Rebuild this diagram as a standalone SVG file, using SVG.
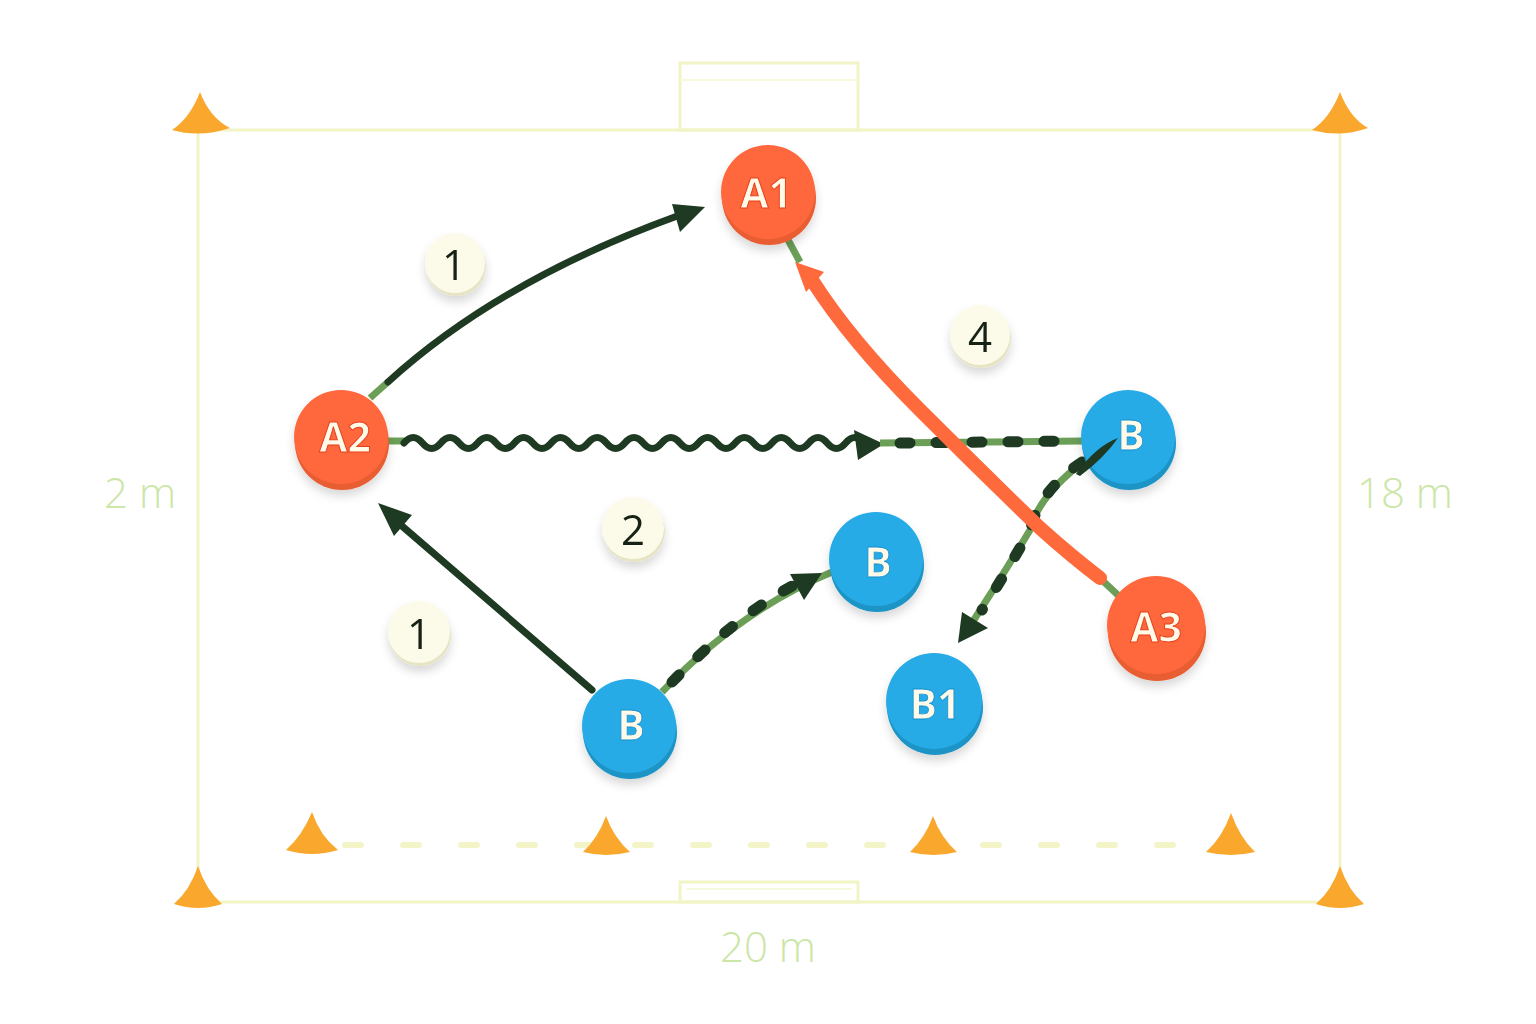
<svg xmlns="http://www.w3.org/2000/svg" width="1536" height="1024" viewBox="0 0 1536 1024">
<style>
.field{fill:none;stroke:#f2f4c6;stroke-width:3}
.fieldi{fill:none;stroke:#f7f9dc;stroke-width:2}
.cone{fill:#f9a82d}
.dim{font-family:"Open Sans","Noto Sans",sans-serif;font-weight:300;font-size:42px;fill:#cbe6a6;text-anchor:middle}
.red .top{fill:#ff683d}
.red .bot{fill:#e85d33}
.blue .top{fill:#27abe6}
.blue .bot{fill:#1e94c6}
.lbl{font-family:"Open Sans","Noto Sans",sans-serif;font-weight:700;font-size:41px;fill:#fffbe8;text-anchor:middle;dominant-baseline:central}
.red .lbl{stroke:#e8401e;stroke-width:1}
.blue .lbl{stroke:#1a8fd0;stroke-width:0.8}
.badge .top{fill:#fcfbea}
.badge .bot{fill:#e6e4c4}
.num{font-family:"Open Sans","Noto Sans",sans-serif;font-size:42px;fill:#142014;text-anchor:middle;dominant-baseline:central}
.dk{fill:none;stroke:#1f3a22;stroke-width:7;stroke-linecap:round}
.gr{fill:none;stroke:#6b9e57;stroke-width:7}
.dash{fill:none;stroke:#1f3a22;stroke-width:11;stroke-linecap:round;stroke-dasharray:10 26}
.or{fill:none;stroke:#ff6a3c;stroke-width:14;stroke-linecap:round}
.ah{fill:#1f3a22}
</style>
<defs>
<filter id="sh" x="-30%" y="-30%" width="160%" height="170%">
<feDropShadow dx="0" dy="6" stdDeviation="5" flood-color="#000" flood-opacity="0.15"/>
</filter>
</defs>
<rect width="1536" height="1024" fill="#ffffff"/>
<g id="field">
<rect class="field" x="198" y="130" width="1142" height="772"/>
<rect class="field" x="680" y="63" width="178" height="67"/>
<line class="fieldi" x1="680" y1="80" x2="858" y2="80"/>
<rect class="field" x="680" y="882" width="178" height="20"/>
<line class="fieldi" x1="686" y1="889" x2="852" y2="889"/>
<line x1="345" y1="845" x2="1205" y2="845" stroke="#f3f5c8" stroke-width="6" stroke-linecap="round" stroke-dasharray="16 42"/>
</g>
<g id="cones">
<path class="cone" d="M172,130 Q190,118 200,92 Q210,118 230,128 Q200,138 172,130Z"/>
<path class="cone" d="M1312,130 Q1330,118 1340,92 Q1350,118 1368,128 Q1340,138 1312,130Z"/>
<path class="cone" d="M174,904 Q190,890 198,866 Q206,890 222,904 Q198,912 174,904Z"/>
<path class="cone" d="M1316,904 Q1332,890 1340,866 Q1348,890 1364,904 Q1340,912 1316,904Z"/>
<path class="cone" d="M286,850 Q302,836 312,812 Q320,836 338,850 Q312,858 286,850Z"/>
<path class="cone" d="M583,852 Q598,838 606,816 Q614,838 630,852 Q606,858 583,852Z"/>
<path class="cone" d="M910,852 Q925,838 933,816 Q941,838 957,852 Q933,858 910,852Z"/>
<path class="cone" d="M1206,852 Q1222,838 1231,813 Q1240,838 1255,852 Q1231,858 1206,852Z"/>
</g>
<g id="dims">
<text class="dim" x="140" y="508">2 m</text>
<text class="dim" x="1405" y="508">18 m</text>
<text class="dim" x="768" y="962">20 m</text>
</g>
<g id="connectors">
<line class="gr" x1="370" y1="398" x2="388" y2="382"/>
<path class="dk" d="M388,382 Q500,280 680,215"/>
<polygon class="ah" points="705,207 672,204 680,232"/>
<line class="dk" x1="592" y1="690" x2="395" y2="520"/>
<polygon class="ah" points="378,503 412,515 394,536"/>
<line class="gr" x1="388" y1="441" x2="404" y2="441"/>
<path class="dk" d="M404,443 q9.2,-11 18.4,0 t18.4,0 t18.4,0 t18.4,0 t18.4,0 t18.4,0 t18.4,0 t18.4,0 t18.4,0 t18.4,0 t18.4,0 t18.4,0 t18.4,0 t18.4,0 t18.4,0 t18.4,0 t18.4,0 t18.4,0 t18.4,0 t18.4,0 t18.4,0 t18.4,0 t18.4,0 t18.4,0 t18.4,0"/>
<polygon class="ah" points="884,444 854,430 858,460"/>
<line class="gr" x1="880" y1="443" x2="1082" y2="441"/>
<line class="dash" x1="900" y1="443" x2="1075" y2="441"/>
<path class="gr" d="M662,692 Q740,610 832,572"/>
<path class="dash" d="M672,682 Q740,612 800,582"/>
<polygon class="ah" points="822,573 790,574 804,600"/>
<path class="gr" d="M1100,450 Q1040,490 1030,530 Q1000,580 970,626"/>
<path class="dash" d="M1082,462 Q1040,490 1030,530 Q1005,575 982,610"/>
<polygon class="ah" points="958,643 962,612 988,628"/>
<line class="gr" x1="1120" y1="597" x2="1104" y2="582"/>
<line class="gr" x1="787" y1="238" x2="800" y2="262"/>
<path class="or" d="M1100,578 Q1070,555 1040,528 Q980,470 920,410 Q850,340 812,280"/>
<polygon points="795,262 824,272 806,292" fill="#ff6a3c"/>
</g>
<g id="A1" class="node red" filter="url(#sh)">
<circle class="bot" cx="769" cy="198" r="47"/>
<circle class="top" cx="768" cy="192" r="47"/>
<text class="lbl" x="766" y="192">A1</text>
</g>
<g id="A2" class="node red" filter="url(#sh)">
<circle class="bot" cx="342" cy="443" r="47"/>
<circle class="top" cx="341" cy="437" r="47"/>
<text class="lbl" x="345" y="436">A2</text>
</g>
<g id="A3" class="node red" filter="url(#sh)">
<circle class="bot" cx="1157" cy="632" r="49"/>
<circle class="top" cx="1156" cy="625" r="49"/>
<text class="lbl" x="1156" y="626">A3</text>
</g>
<g id="B_right" class="node blue" filter="url(#sh)">
<circle class="bot" cx="1129" cy="443" r="47"/>
<circle class="top" cx="1128" cy="437" r="47"/>
<text class="lbl" x="1131" y="434">B</text>
</g>
<g id="B_mid" class="node blue" filter="url(#sh)">
<circle class="bot" cx="877" cy="565" r="47"/>
<circle class="top" cx="876" cy="559" r="47"/>
<text class="lbl" x="878" y="561">B</text>
</g>
<g id="B_bottom" class="node blue" filter="url(#sh)">
<circle class="bot" cx="630" cy="732" r="47"/>
<circle class="top" cx="629" cy="726" r="47"/>
<text class="lbl" x="631" y="724">B</text>
</g>
<g id="B1" class="node blue" filter="url(#sh)">
<circle class="bot" cx="935" cy="707" r="48"/>
<circle class="top" cx="934" cy="701" r="48"/>
<text class="lbl" x="935" y="703">B1</text>
</g>
<path d="M1076,474 Q1096,446 1118,438 Q1104,458 1080,476Z" fill="#1f3a22"/>
<g id="badge_1a" class="badge" filter="url(#sh)">
<circle class="bot" cx="456" cy="266" r="30"/>
<circle class="top" cx="455" cy="263" r="30"/>
<text class="num" x="454" y="263">1</text>
</g>
<g id="badge_4" class="badge" filter="url(#sh)">
<circle class="bot" cx="981" cy="338" r="30"/>
<circle class="top" cx="980" cy="335" r="30"/>
<text class="num" x="980" y="335">4</text>
</g>
<g id="badge_2" class="badge" filter="url(#sh)">
<circle class="bot" cx="634" cy="531" r="31"/>
<circle class="top" cx="633" cy="528" r="31"/>
<text class="num" x="633" y="528">2</text>
</g>
<g id="badge_1b" class="badge" filter="url(#sh)">
<circle class="bot" cx="420" cy="635" r="31"/>
<circle class="top" cx="419" cy="632" r="31"/>
<text class="num" x="419" y="632">1</text>
</g>
</svg>
